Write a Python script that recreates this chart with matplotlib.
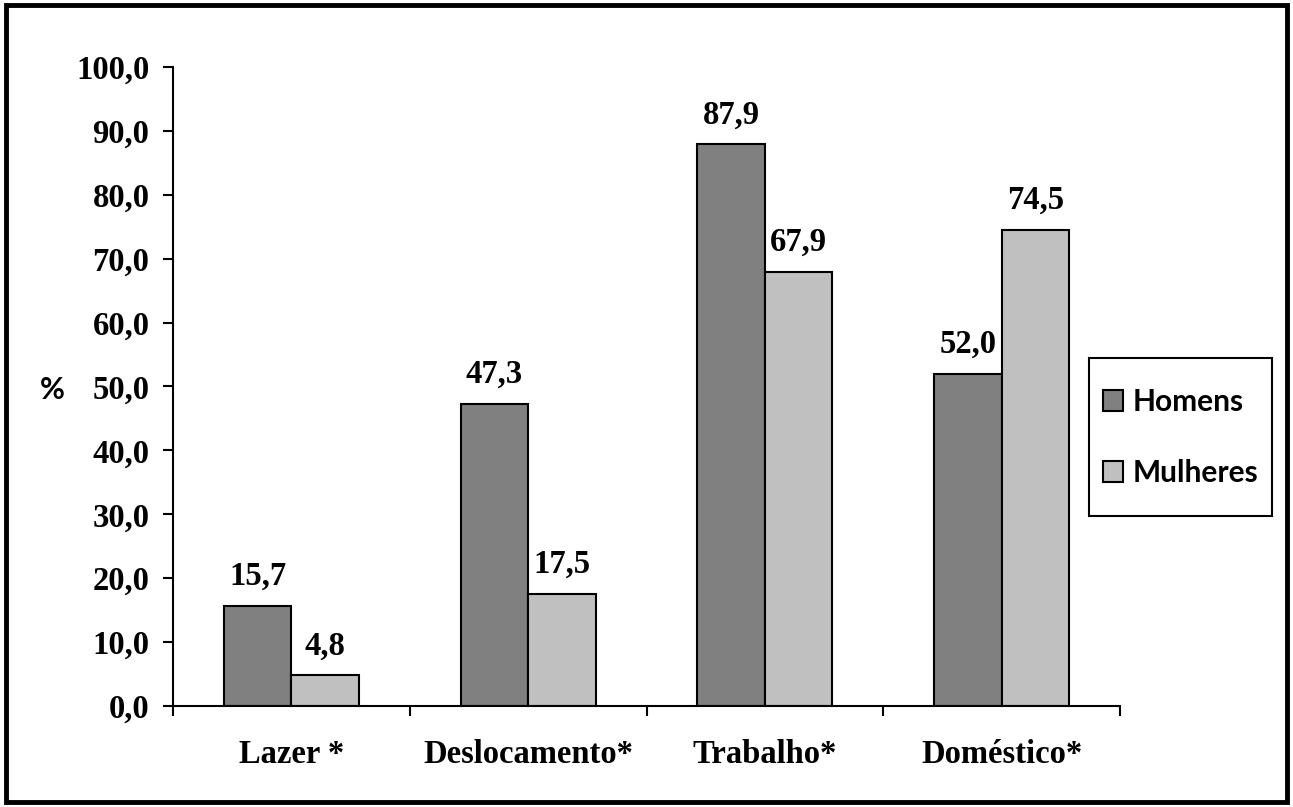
import numpy as np
import matplotlib.pyplot as plt
from matplotlib.patches import Rectangle

categorias = ['Lazer *', 'Deslocamento*', 'Trabalho*', 'Doméstico*']
homens = [15.7, 47.3, 87.9, 52.0]
mulheres = [4.8, 17.5, 67.9, 74.5]
y_ticks = [0, 10, 20, 30, 40, 50, 60, 70, 80, 90, 100]

serif = ['Liberation Serif', 'DejaVu Serif']
sans = ['Lato', 'DejaVu Sans']

fig = plt.figure(figsize=(12.93, 8.07), dpi=100)
ax = fig.add_axes([0.1338, 0.1252, 0.7324, 0.7918])

x = np.arange(len(categorias))
w = 0.285
b1 = ax.bar(x - w / 2, homens, w, color='#808080', edgecolor='black', linewidth=1.5, label='Homens')
b2 = ax.bar(x + w / 2, mulheres, w, color='#c0c0c0', edgecolor='black', linewidth=1.5, label='Mulheres')

def fmt(v):
    return f'{v:.1f}'.replace('.', ',')

for barras, vals in [(b1, homens), (b2, mulheres)]:
    for b, v in zip(barras, vals):
        ax.annotate(fmt(v), (b.get_x() + b.get_width() / 2, v), xytext=(0, 10),
                    textcoords='offset points', ha='center', va='bottom',
                    fontsize=23.5, fontweight='bold', family=serif)

ax.set_xlim(-0.5, len(categorias) - 0.5)
ax.set_ylim(0, 100)
ax.set_yticks(y_ticks)
ax.set_yticklabels([fmt(v) for v in y_ticks], fontsize=23.5, fontweight='bold', family=serif)
ax.tick_params(axis='y', direction='out', length=7, width=1.5, pad=10)

ax.set_xticks(np.arange(len(categorias) + 1) - 0.5)
ax.set_xticklabels([])
ax.tick_params(axis='x', which='major', direction='out', length=7, width=1.5)
ax.set_xticks(x, minor=True)
ax.set_xticklabels(categorias, minor=True, fontsize=23.5, fontweight='bold', family=serif)
ax.tick_params(axis='x', which='minor', length=0, pad=24)

for s in ['top', 'right']:
    ax.spines[s].set_visible(False)
for s in ['left', 'bottom']:
    ax.spines[s].set_linewidth(1.5)

fig.text(0.0406, 0.517, '%', fontsize=22, fontweight='bold', family=sans,
         ha='center', va='center')

# caixa da legenda desenhada à parte
fig.patches.append(Rectangle((0.8422, 0.3606), 0.1416, 0.1958, transform=fig.transFigure,
                             facecolor='white', edgecolor='black', linewidth=1.5, zorder=5))
leg = fig.legend(handles=[b1, b2], loc='center left', bbox_to_anchor=(0.853, 0.4579),
                 frameon=False, borderaxespad=0,
                 prop={'family': sans, 'weight': 'bold', 'size': 21.5},
                 handlelength=0.68, handleheight=0.68, handletextpad=0.3,
                 labelspacing=1.45, borderpad=0)
leg.set_zorder(6)
for h in leg.legend_handles:
    h.set_linewidth(1.5)

fig.patches.append(Rectangle((0.0046, 0.0056), 0.9908, 0.9881, transform=fig.transFigure,
                             fill=False, edgecolor='black', linewidth=3.5))

fig.savefig('out.png', dpi=100)
